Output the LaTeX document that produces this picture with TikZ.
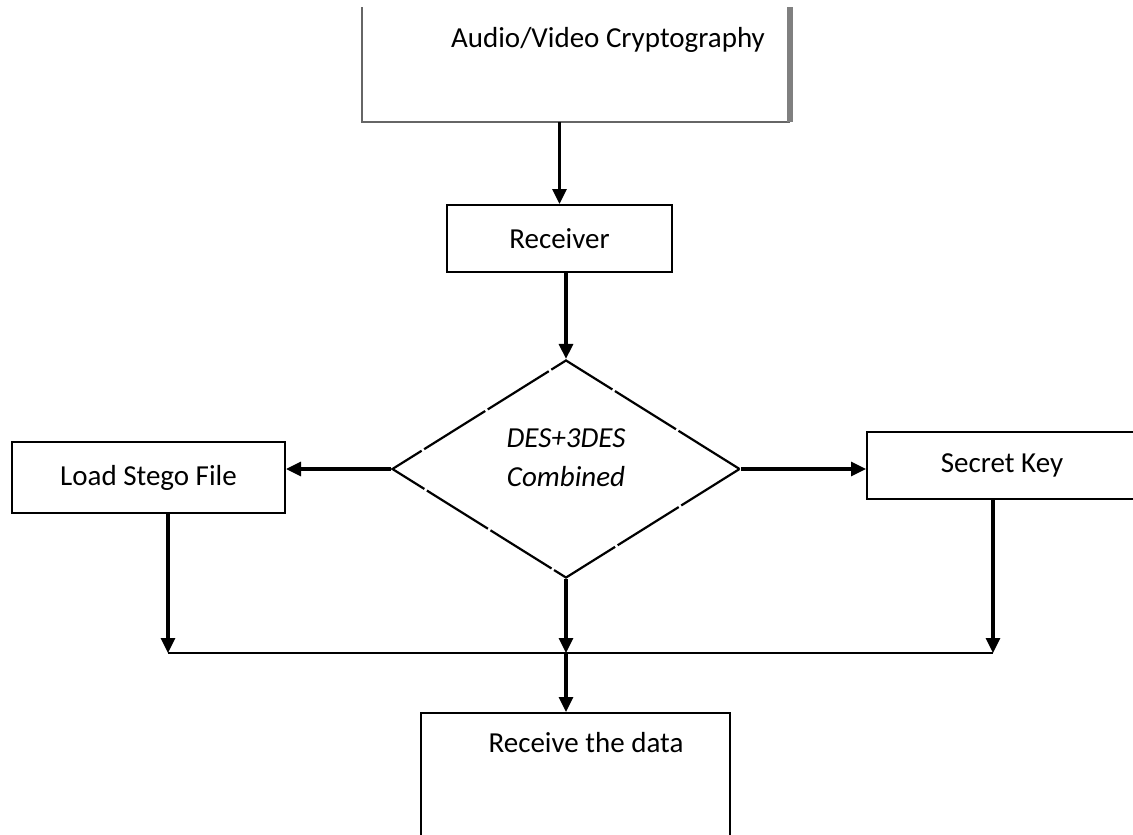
\documentclass[tikz,border=0pt]{standalone}
\usepackage{fontspec}
\setmainfont{Carlito}
\usetikzlibrary{arrows.meta,shapes.geometric}
\begin{document}
\begin{tikzpicture}[x=1pt,y=-1pt,
  box/.style={draw,line width=2pt,inner sep=0pt},
  arr/.style={line width=3.2pt,-{Triangle[length=15pt,width=14pt]}},
  lbl/.style={font=\fontsize{29}{34}\selectfont},
  dlbl/.style={font=\fontsize{29}{39}\selectfont\itshape,align=center}]
\useasboundingbox (0,0) rectangle (1133,835);
% top box (open at the top)
\node[minimum width=428pt,minimum height=115pt,inner sep=0pt] (av) at (576,64.5) {};
\draw[line width=1.4pt,draw=black!60] (362,7) -- (362,122) -- (790,122);
\draw[line width=6pt,draw=black!50] (790,7) -- (790,122);
\node[lbl] (avt) at (608,40) {Audio/Video Cryptography};
% receiver
\node[box,lbl,minimum width=225pt,minimum height=67pt] (rcv) at (559.5,238.5) {Receiver};
% diamond
\node[diamond,draw,line width=2.2pt,minimum width=348pt,minimum height=218pt,inner sep=0pt,
  dash pattern=on 72pt off 3pt] (dia) at (566,469) {};
\node[dlbl] (diat) at (566,458) {DES+3DES\\Combined};
% side boxes
\node[box,lbl,minimum width=273pt,minimum height=71pt] (load) at (148.5,477.5) {Load Stego File};
\node[box,lbl,minimum width=270pt,minimum height=67pt] (key) at (1002,465.5) {Secret Key};
% receive box
\node[box,minimum width=309pt,minimum height=160pt] (rd) at (575.5,793) {};
\node[lbl] (rdt) at (586,743) {Receive the data};
% junction points
\coordinate (jl) at (168,653);
\coordinate (jr) at (993,653);
\coordinate (jm) at (566,653);
% connectors
\draw[arr] (av.south -| rcv.north) -- (rcv.north);
\draw[arr] (rcv.south -| dia.north) -- (dia.north);
\draw[arr] (dia.west) -- (load.east |- dia.west);
\draw[arr] (dia.east) -- (key.west |- dia.east);
\draw[arr] (load.south -| jl) -- (jl);
\draw[arr] (key.south -| jr) -- (jr);
\draw[arr] (dia.south) -- (jm);
\draw[line width=2pt] (jl) -- (jr);
\draw[arr] (jm) -- (rd.north -| jm);
\end{tikzpicture}
\end{document}
